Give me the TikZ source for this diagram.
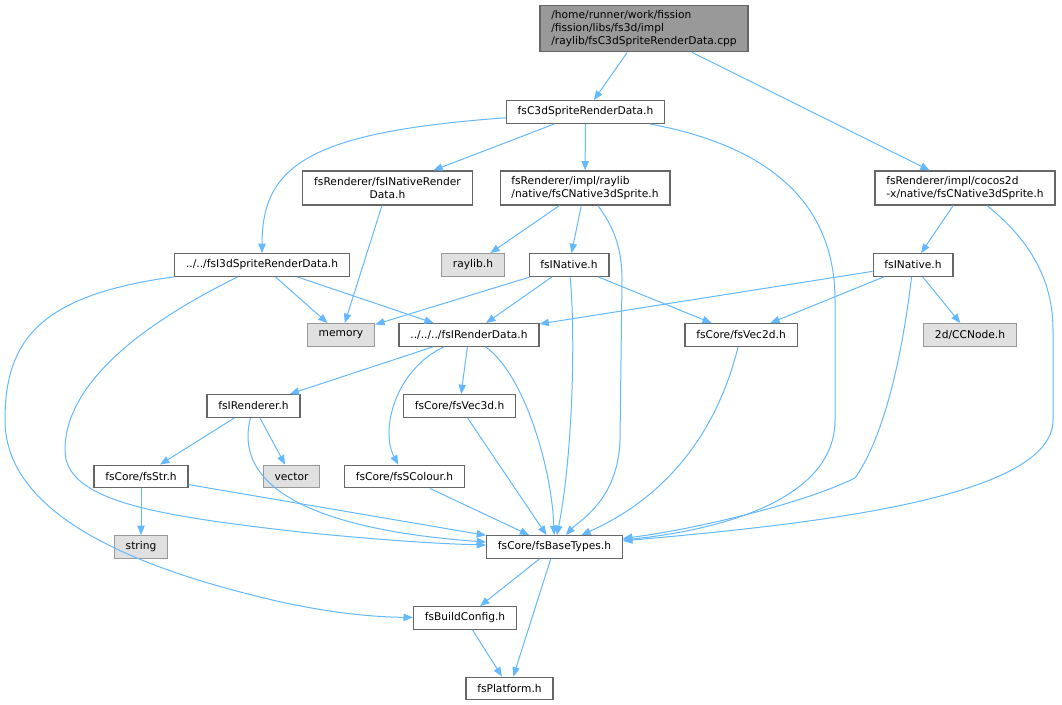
\documentclass[tikz,border=0pt]{standalone}
\usepackage{fontspec}
\setmainfont{DejaVu Sans}
\usetikzlibrary{arrows.meta}
\definecolor{edgeblue}{HTML}{63B8FF}
\definecolor{boxgrey}{HTML}{666666}
\definecolor{extgrey}{HTML}{E0E0E0}
\definecolor{extborder}{HTML}{999999}
\definecolor{rootgrey}{HTML}{999999}

\begin{document}
\begin{tikzpicture}[x=0.75pt, y=-0.75pt,
    header_box/.style ={rectangle, draw=boxgrey, line width=0.9pt, fill=white,
      font=\fontsize{8}{9.5}\selectfont, inner xsep=8.5pt, inner ysep=0pt,
      minimum height=17pt},
    header_two/.style ={header_box, align=left, minimum height=25.5pt},
    header_two_c/.style ={header_box, align=center, minimum height=25.5pt},
    header_root/.style ={header_box, fill=rootgrey, align=left, minimum height=35pt},
    header_ext/.style ={header_box, draw=extborder, fill=extgrey},
    line/.style ={draw=edgeblue, line width=0.75pt, -{Triangle[length=7pt, width=5.5pt]}}]

    \useasboundingbox (0,0) rectangle (1062,705);

    % Place nodes
    \node [header_root] (cppFile) at (644,28.5) {/home/runner/work/fission\\/fission/libs/fs3d/impl\\/raylib/fsC3dSpriteRenderData.cpp};
    \node [header_box] (c3dHeader) at (585.5,112) {fsC3dSpriteRenderData.h};

    \node [header_two_c] (nativeRenderData) at (387.5,188) {fsRenderer/fsINativeRender\\Data.h};
    \node [header_two] (raylibSprite) at (585,188) {fsRenderer/impl/raylib\\/native/fsCNative3dSprite.h};
    \node [header_two] (cocosSprite) at (965,188) {fsRenderer/impl/cocos2d\\-x/native/fsCNative3dSprite.h};

    \node [header_box] (i3dRenderData) at (262,265) {../../fsI3dSpriteRenderData.h};
    \node [header_ext] (raylibH) at (473,265) {raylib.h};
    \node [header_box] (iNativeRay) at (569,265) {fsINative.h};
    \node [header_box] (iNativeCocos) at (913,265) {fsINative.h};

    \node [header_ext] (memory) at (341,335) {memory};
    \node [header_box] (iRenderData) at (469,335) {../../../fsIRenderData.h};
    \node [header_box] (vec2d) at (741,335) {fsCore/fsVec2d.h};
    \node [header_ext] (ccNode) at (970,335) {2d/CCNode.h};

    \node [header_box] (iRenderer) at (253.5,406) {fsIRenderer.h};
    \node [header_box] (vec3d) at (459.5,406) {fsCore/fsVec3d.h};

    \node [header_box] (fsStr) at (141,476.5) {fsCore/fsStr.h};
    \node [header_ext] (vectorH) at (291.5,476.5) {vector};
    \node [header_box] (sColour) at (404.5,476.5) {fsCore/fsSColour.h};

    \node [header_ext] (stringH) at (141,547) {string};
    \node [header_box] (baseTypes) at (554.5,547) {fsCore/fsBaseTypes.h};
    \node [header_box] (buildConfig) at (465,618) {fsBuildConfig.h};
    \node [header_box] (platform) at (509.5,688.5) {fsPlatform.h};

    \begin{scope}[every path/.style=line]
    % paths from the source file
    \path (cppFile) -- (c3dHeader);
    \path (cppFile) -- (cocosSprite);

    % paths from fsC3dSpriteRenderData.h
    \path (c3dHeader) .. controls (310,132) and (262,165) .. (i3dRenderData);
    \path (c3dHeader) -- (nativeRenderData);
    \path (c3dHeader) -- (raylibSprite);
    \path (c3dHeader) .. controls (790,150) and (835,220) .. (835,300) -- (835,420)
        .. controls (835,500) and (720,530) .. (baseTypes);

    % paths from the native sprite headers
    \path (nativeRenderData) -- (memory);
    \path (raylibSprite) -- (raylibH);
    \path (raylibSprite) -- (iNativeRay);
    \path (raylibSprite) .. controls (612,225) and (622,245) .. (622,280) -- (620,440)
        .. controls (618,500) and (580,520) .. (baseTypes);
    \path (cocosSprite) -- (iNativeCocos);
    \path (cocosSprite) .. controls (1030,240) and (1053,280) .. (1053,330) -- (1053,420)
        .. controls (1053,500) and (800,525) .. (baseTypes);

    % paths from fsI3dSpriteRenderData.h
    \path (i3dRenderData) -- (memory);
    \path (i3dRenderData) -- (iRenderData);
    \path (i3dRenderData) .. controls (150,320) and (65,380) .. (65,450)
        .. controls (65,500) and (150,515) .. (300,532)
        .. controls (400,542) and (450,544) .. (baseTypes);
    \path (i3dRenderData) .. controls (40,295) and (5,340) .. (5,420)
        .. controls (5,520) and (150,570) .. (260,597)
        .. controls (320,612) and (370,617) .. (buildConfig);

    % paths from the two fsINative.h
    \path (iNativeRay) -- (memory);
    \path (iNativeRay) -- (iRenderData);
    \path (iNativeRay) -- (vec2d);
    \path (iNativeRay) .. controls (576,340) and (572,460) .. (baseTypes);
    \path (iNativeCocos) -- (iRenderData);
    \path (iNativeCocos) -- (vec2d);
    \path (iNativeCocos) -- (ccNode);
    \path (iNativeCocos) .. controls (898,390) and (875,450) .. (855,478)
        .. controls (800,505) and (690,530) .. (baseTypes);

    % paths from fsIRenderData.h
    \path (iRenderData) -- (iRenderer);
    \path (iRenderData) -- (vec3d);
    \path (iRenderData) .. controls (395,370) and (380,430) .. (sColour);
    \path (iRenderData) .. controls (525,375) and (552,470) .. (baseTypes);
    \path (vec2d) .. controls (715,440) and (660,500) .. (baseTypes);

    % paths from the lower headers
    \path (iRenderer) -- (fsStr);
    \path (iRenderer) -- (vectorH);
    \path (iRenderer) .. controls (232,490) and (320,530) .. (baseTypes);
    \path (vec3d) -- (baseTypes);
    \path (sColour) -- (baseTypes);
    \path (fsStr) -- (stringH);
    \path (fsStr) -- (baseTypes);

    % paths to the bottom
    \path (baseTypes) -- (buildConfig);
    \path (baseTypes) -- (platform);
    \path (buildConfig) -- (platform);
    \end{scope}

\end{tikzpicture}
\end{document}
